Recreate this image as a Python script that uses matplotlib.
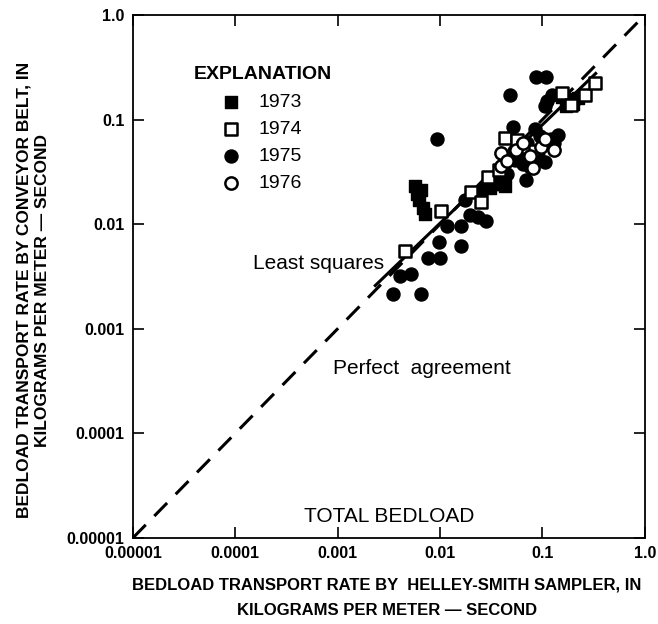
import numpy as np
import matplotlib
matplotlib.use("Agg")
from matplotlib import pyplot as plt
from matplotlib import font_manager

names = {f.name for f in font_manager.fontManager.ttflist}
plain = "Liberation Sans" if "Liberation Sans" in names else "DejaVu Sans"

# Helley-Smith rate (x) vs conveyor-belt rate (y), kg per meter-second
x_1973 = [0.0057, 0.0059, 0.0062, 0.0065, 0.0068, 0.0072, 0.031, 0.035, 0.040, 0.0435, 0.038,
          0.156, 0.197, 0.171, 0.200, 0.220]
y_1973 = [0.0230, 0.0196, 0.0172, 0.0210, 0.0144, 0.0126, 0.022, 0.024, 0.0244, 0.0234, 0.028,
          0.163, 0.156, 0.136, 0.140, 0.160]

x_1974 = [0.00459, 0.01025, 0.0199, 0.0251, 0.0292, 0.0427, 0.0561, 0.038, 0.0788, 0.154,
          0.188, 0.262, 0.325, 0.065]
y_1974 = [0.00556, 0.0134, 0.0205, 0.0162, 0.0284, 0.0662, 0.0633, 0.0333, 0.0495, 0.178,
          0.139, 0.170, 0.225, 0.055]

x_1975 = [0.00346, 0.00403, 0.00519, 0.00658, 0.00757, 0.00986, 0.01005, 0.0116, 0.0161, 0.0161,
          0.0174, 0.0195, 0.0235, 0.0279, 0.00941, 0.0478, 0.0510, 0.0684, 0.0866, 0.1087,
          0.1067, 0.1228, 0.1416, 0.1067, 0.0841, 0.0525, 0.054, 0.025, 0.028, 0.033, 0.045,
          0.060, 0.070, 0.075, 0.090, 0.095, 0.120, 0.130, 0.110, 0.065, 0.080]
y_1975 = [0.00216, 0.00322, 0.00336, 0.00216, 0.00479, 0.00669, 0.00479, 0.00969, 0.00969, 0.00612,
          0.0172, 0.0121, 0.0116, 0.0106, 0.0645, 0.173, 0.084, 0.0267, 0.253, 0.253,
          0.136, 0.170, 0.0704, 0.0397, 0.0818, 0.0495, 0.0415, 0.020, 0.022, 0.025, 0.030,
          0.045, 0.060, 0.035, 0.045, 0.070, 0.065, 0.060, 0.150, 0.038, 0.040]

x_1976 = [0.0396, 0.0396, 0.0551, 0.0803, 0.097, 0.1288, 0.1067, 0.075, 0.045, 0.065]
y_1976 = [0.0474, 0.0363, 0.0517, 0.0348, 0.0541, 0.0517, 0.0645, 0.045, 0.040, 0.060]

# least squares fit in log space: log y = slope * log x + intercept
ls_slope, ls_intercept = 0.942, -0.107
ls_range = [0.00233, 0.331]

fig = plt.figure(figsize=(6.58, 6.24), dpi=100)
ax = fig.add_axes([0.202, 0.138, 0.778, 0.838])

ax.plot([1e-5, 1.0], [1e-5, 1.0], color="black", lw=2.2, dashes=(6, 4))
lx = np.array(ls_range)
ax.plot(lx, 10 ** (ls_slope * np.log10(lx) + ls_intercept), color="black", lw=2.2)

ax.scatter(x_1975, y_1975, s=88, marker="o", color="black", zorder=3, label="1975")
ax.scatter(x_1973, y_1973, s=70, marker="s", color="black", zorder=4, label="1973")
ax.scatter(x_1974, y_1974, s=70, marker="s", facecolor="white", edgecolor="black",
           linewidth=1.8, zorder=5, label="1974")
ax.scatter(x_1976, y_1976, s=78, marker="o", facecolor="white", edgecolor="black",
           linewidth=1.8, zorder=5, label="1976")

ax.set_xscale("log")
ax.set_yscale("log")
ax.set_xlim(1e-5, 1.0)
ax.set_ylim(1e-5, 1.0)

ticks = [1e-5, 1e-4, 1e-3, 1e-2, 1e-1, 1.0]
tick_labels = ["0.00001", "0.0001", "0.001", "0.01", "0.1", "1.0"]
ax.set_xticks(ticks)
ax.set_xticklabels(tick_labels)
ax.set_yticks(ticks)
ax.set_yticklabels(tick_labels)
ax.minorticks_off()
ax.tick_params(direction="in", length=8, width=1.2, top=True, right=True, pad=6)
for lab in ax.get_xticklabels() + ax.get_yticklabels():
    lab.set_fontfamily(plain)
    lab.set_fontweight("bold")
    lab.set_fontsize(11.5)
for s in ax.spines.values():
    s.set_linewidth(1.3)

fig.text(0.588, 0.042, "BEDLOAD TRANSPORT RATE BY  HELLEY-SMITH SAMPLER, IN\nKILOGRAMS PER METER \u2014 SECOND",
         fontfamily=plain, fontweight="bold", fontsize=12, ha="center", va="center",
         linespacing=1.8)
fig.text(0.050, 0.535, "BEDLOAD TRANSPORT RATE BY CONVEYOR BELT, IN\nKILOGRAMS PER METER \u2014 SECOND",
         fontfamily=plain, fontweight="bold", fontsize=12.5, ha="center", va="center",
         rotation=90, linespacing=1.3)

ax.text(0.00065, 0.0042, "Least squares", fontfamily=plain, fontsize=15, ha="center", va="center")
ax.text(0.0066, 0.00042, "Perfect  agreement", fontfamily=plain, fontsize=15, ha="center", va="center")
ax.text(0.0032, 0.000016, "TOTAL BEDLOAD", fontfamily=plain, fontsize=15, ha="center", va="center")

ax.text(0.118, 0.886, "EXPLANATION", transform=ax.transAxes, fontfamily=plain,
        fontweight="bold", fontsize=14, ha="left", va="center")

handles, labels = ax.get_legend_handles_labels()
order = [labels.index(y) for y in ["1973", "1974", "1975", "1976"]]
leg = ax.legend([handles[i] for i in order], [labels[i] for i in order],
                frameon=False, loc="upper left", bbox_to_anchor=(0.158, 0.868),
                prop={"family": plain, "size": 14}, handletextpad=1.0,
                labelspacing=0.48, borderpad=0, handlelength=0.8)

fig.savefig("out.png", dpi=100)
